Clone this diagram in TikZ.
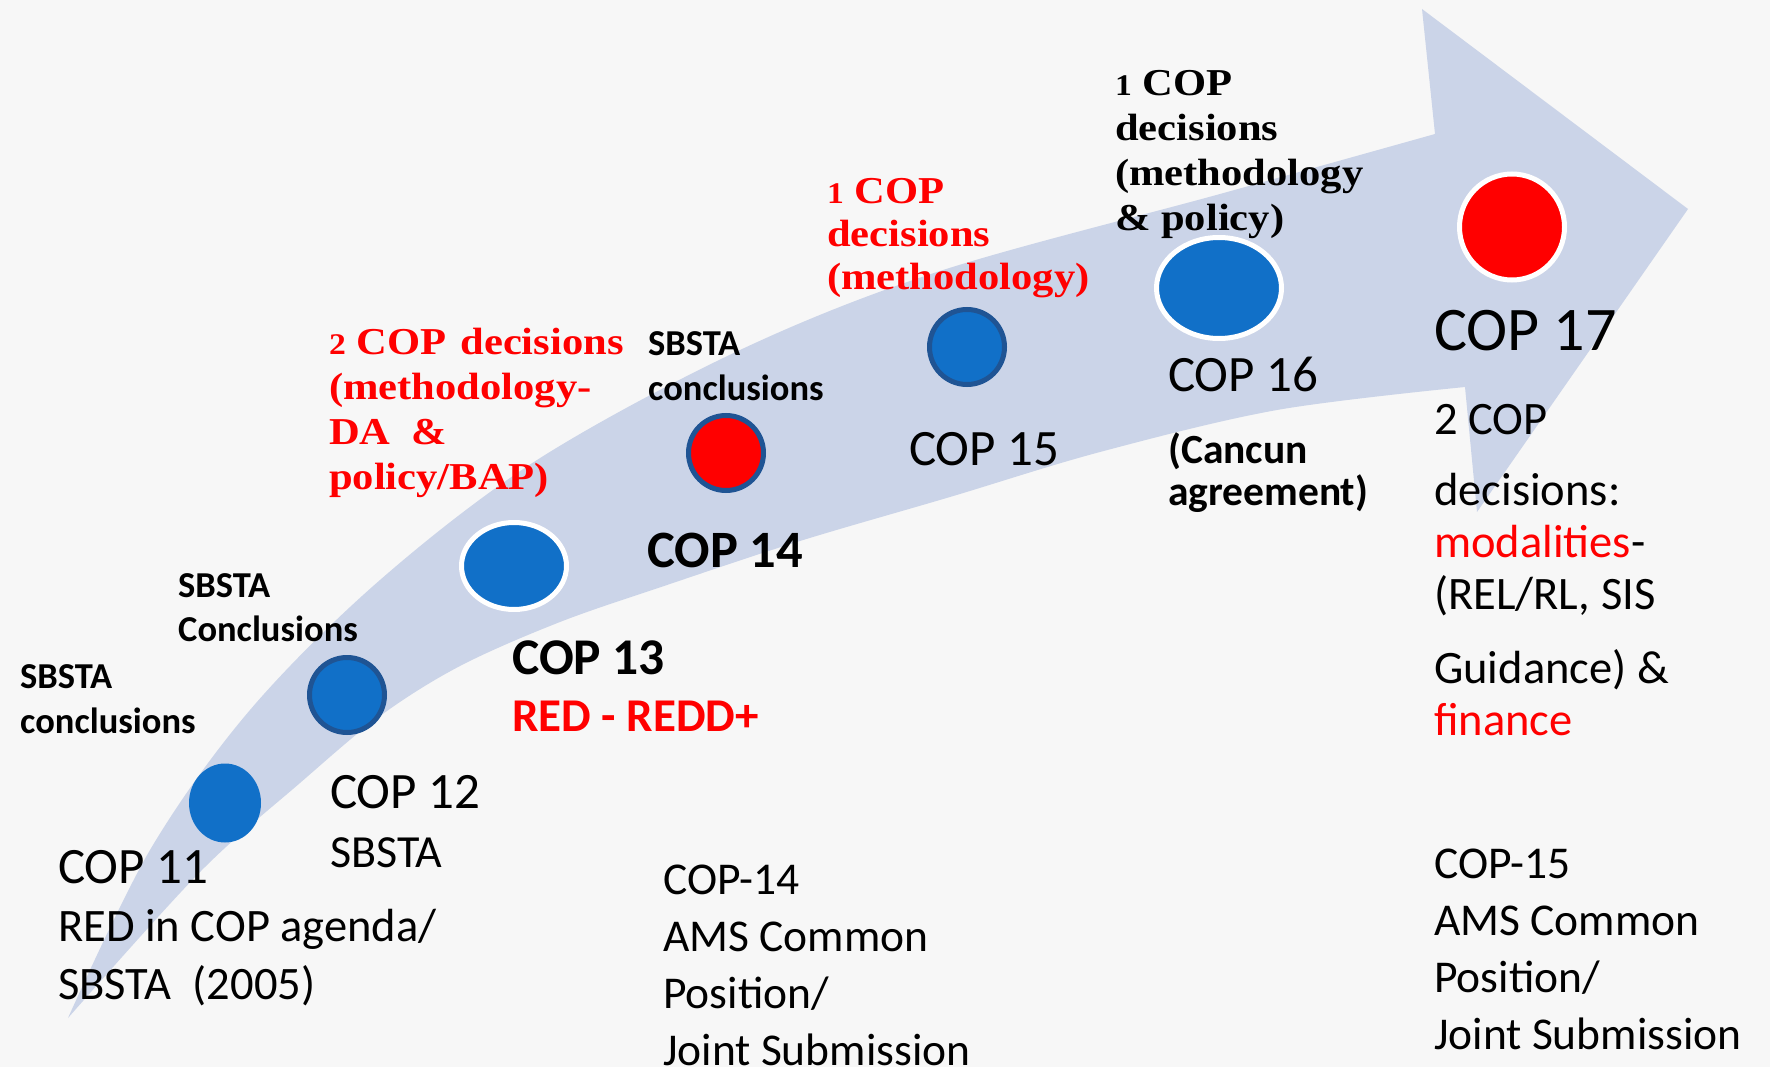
\documentclass[tikz,border=0pt]{standalone}
\usepackage{fontspec}
\setmainfont{Carlito}
\newfontfamily\cser{Liberation Serif}[FakeStretch=1.12]
\usetikzlibrary{shapes.geometric}
\definecolor{bgc}{RGB}{247,247,247}
\definecolor{arrc}{RGB}{203,212,232}
\definecolor{dotb}{RGB}{17,112,200}
\definecolor{rimb}{RGB}{31,84,148}
\definecolor{redc}{RGB}{255,0,0}
\newcommand\fsz[2]{\fontsize{#1}{#2}\selectfont}
\newcommand\osn[1]{{\fontsize{30}{30}\selectfont #1}}
\tikzset{
  t/.style={inner sep=0pt, anchor=base west, align=left},
  dot/.style={ellipse, inner sep=0pt, line width=5pt, fill=dotb},
  serl/.style={t, font={\cser\bfseries\fsz{38}{45}}},
}
\begin{document}
\begin{tikzpicture}[x=1pt,y=-1pt]
\useasboundingbox (0,0) rectangle (1770,1067);
\fill[bgc] (0,0) rectangle (1770,1067);
% curved arrow
\fill[arrc] plot[smooth, tension=0.55] coordinates {(68,1018) (150,850) (250,710) (380,580) (537,460) (740,350) (940,271) (1220,194) (1435,134)}
  -- (1422,9) -- (1688,209) -- (1477,512) -- (1465,387)
  -- plot[smooth, tension=0.55] coordinates {(1465,387) (1277,410) (1100,452) (950,497) (800,541) (667,585) (560,622) (460,666) (380,716) (300,783) (200,872) (68,1018)} -- cycle;
% dots
\node[dot, minimum width=72pt, minimum height=79pt] (c11) at (225,803) {};
\node[dot, draw=rimb, minimum width=75pt, minimum height=75pt] (c12) at (347,695) {};
\node[dot, draw=white, minimum width=105pt, minimum height=87pt] (c13) at (514,566) {};
\node[dot, draw=rimb, fill=redc, minimum width=75pt, minimum height=75pt] (c14) at (726,453) {};
\node[dot, draw=rimb, minimum width=75pt, minimum height=75pt] (c15) at (967,347) {};
\node[dot, draw=white, minimum width=125pt, minimum height=101pt] (c16) at (1219,288) {};
\node[dot, draw=white, fill=redc, minimum width=105pt, minimum height=106pt] (c17) at (1512,227) {};
% SBSTA labels (anchor = baseline of last line)
\node[t, font=\bfseries\fsz{36.5}{45}] (s11) at (20,733) {SBSTA\\conclusions};
\node[t, font=\bfseries\fsz{36.5}{44}] (s12) at (178,641) {SBSTA\\Conclusions};
\node[t, font=\bfseries\fsz{36.5}{45}] (s14) at (648,400) {SBSTA\\conclusions};
% COP labels
\node[t, font=\fsz{51}{60}] (l11) at (58,883) {COP 11};
\node[t, font=\fsz{46.5}{58}] (d11) at (58,999) {RED in COP agenda/\\SBSTA\ \ (2005)};
\node[t, font=\fsz{51}{60}] (l12) at (330,808) {COP 12};
\node[t, font=\fsz{46}{58}] (d12) at (330,867) {SBSTA};
\node[t, font=\bfseries\fsz{51.5}{60}] (l13) at (512,674) {COP 13};
\node[t, font=\bfseries\fsz{47}{58}, text=redc] (d13) at (512,731) {RED - REDD+};
\node[t, font=\bfseries\fsz{52.5}{60}] (l14) at (647,567) {COP 14};
\node[t, font=\fsz{51}{60}] (l15) at (909,465) {COP 15};
\node[t, font=\fsz{51}{60}] (l16) at (1168,391) {COP 16};
\node[t, font=\bfseries\fsz{41.5}{42}] (d16) at (1168,505) {(Cancun\\agreement)};
\node[t, font=\fsz{62}{70}] (l17) at (1434,350) {COP 17};
\node[t, font=\fsz{46.5}{52}] (d17) at (1434,735) {2 COP\\[19pt]decisions:\\{\color{redc}modalities}-\\(REL/RL, SIS\\[22pt]Guidance) \&\\{\color{redc}finance}};
% bottom blocks
\node[t, font=\fsz{45.5}{57}] (j14) at (663,1065) {COP-14\\AMS Common\\Position/\\Joint Submission};
\node[t, font=\fsz{45.5}{57}] (j15) at (1434,1049) {COP-15\\AMS Common\\Position/\\Joint Submission};
% serif decision labels
\node[serl, text=redc] (r13) at (329,489) {\osn{2} COP\hspace{14pt}decisions\\(methodology-\\DA\ \ \&\\policy/BAP)};
\node[serl, text=redc, font={\cser\bfseries\fsz{38}{43}}] (r15) at (827,290) {\osn{1} COP\\decisions\\(methodology)};
\node[serl] (r16) at (1115,231) {\osn{1} COP\\decisions\\(methodology\\\& policy)};
\end{tikzpicture}
\end{document}
